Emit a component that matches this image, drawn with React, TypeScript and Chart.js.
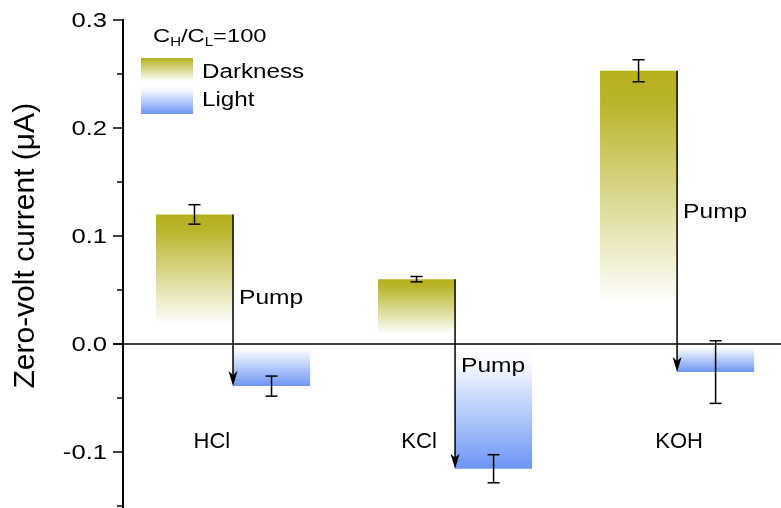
import React, { useEffect, useRef } from 'react';
import { Chart, registerables } from 'chart.js';

Chart.register(...registerables);

// Zero-volt current (μA) at C_H/C_L = 100, per electrolyte
const categories = ['HCl', 'KCl', 'KOH'];
const darknessValues = [0.12, 0.06, 0.253];
const darknessErrors = [0.009, 0.0025, 0.0102];
const lightValues = [-0.039, -0.1155, -0.026];
const lightErrors = [0.0093, 0.013, 0.029];

// y axis ticks
const majorTicks = [0.3, 0.2, 0.1, 0.0, -0.1];
const minorTicks = [0.25, 0.15, 0.05, -0.05, -0.15];

// annotation anchors (axis units)
const categoryLabelX = [-0.095, 0.838, 2.009];
const categoryLabelY = -0.091;
const pumpLabelY = [0.042, -0.021, 0.122];

const OLIVE = [180, 176, 28];
const BLUE = [108, 150, 245];
const rgba = (c: number[], a: number) => `rgba(${c[0]},${c[1]},${c[2]},${a})`;
const FONT = '"Liberation Sans", Arial, Helvetica, sans-serif';
const STRETCH = 1.22;

function darkFill(c: any) {
  const chart = c.chart;
  if (c.type !== 'data' || !chart.chartArea) return rgba(OLIVE, 1);
  const y = chart.scales.y;
  const top = y.getPixelForValue(c.parsed.y);
  const base = y.getPixelForValue(0);
  const g = chart.ctx.createLinearGradient(0, top, 0, base);
  g.addColorStop(0, rgba(OLIVE, 1));
  g.addColorStop(0.12, rgba(OLIVE, 0.93));
  g.addColorStop(0.85, rgba(OLIVE, 0));
  g.addColorStop(1, rgba(OLIVE, 0));
  return g;
}

function lightFill(c: any) {
  const chart = c.chart;
  if (c.type !== 'data' || !chart.chartArea) return rgba(BLUE, 1);
  const y = chart.scales.y;
  const bottom = y.getPixelForValue(c.parsed.y);
  const base = y.getPixelForValue(0);
  const g = chart.ctx.createLinearGradient(0, base, 0, bottom);
  g.addColorStop(0, rgba(BLUE, 0));
  g.addColorStop(0.15, rgba(BLUE, 0.04));
  g.addColorStop(1, rgba(BLUE, 1));
  return g;
}

function text(
  ctx: CanvasRenderingContext2D,
  s: string,
  x: number,
  y: number,
  size: number,
  align: CanvasTextAlign,
  sx = STRETCH
) {
  ctx.save();
  ctx.font = `${size}px ${FONT}`;
  ctx.textAlign = align;
  ctx.textBaseline = 'middle';
  ctx.fillStyle = '#000';
  ctx.translate(x, y);
  ctx.scale(sx, 1);
  ctx.fillText(s, 0, 0);
  ctx.restore();
}

function segment(ctx: CanvasRenderingContext2D, x1: number, y1: number, x2: number, y2: number) {
  ctx.beginPath();
  ctx.moveTo(x1, y1);
  ctx.lineTo(x2, y2);
  ctx.stroke();
}

const overlay = {
  id: 'overlay',
  afterDatasetsDraw(chart: any) {
    const { ctx, chartArea, scales } = chart;
    const ys = scales.y;
    const xs = scales.x;
    const axisX = chartArea.left + 1;
    const y0 = ys.getPixelForValue(0);
    const dark = chart.getDatasetMeta(0).data;
    const light = chart.getDatasetMeta(1).data;

    ctx.save();
    ctx.strokeStyle = '#000';
    ctx.fillStyle = '#000';

    // zero line
    ctx.lineWidth = 1.5;
    segment(ctx, axisX - 10, y0, chart.width, y0);

    // y axis with outward ticks
    ctx.lineWidth = 2;
    segment(ctx, axisX, chartArea.top - 1, axisX, chart.height);
    ctx.lineWidth = 1.5;
    majorTicks.forEach((v) => {
      const py = ys.getPixelForValue(v);
      segment(ctx, axisX - 10, py, axisX, py);
      text(ctx, v.toFixed(1), axisX - 16, py + 1, 21, 'right');
    });
    minorTicks.forEach((v) => {
      const py = ys.getPixelForValue(v);
      segment(ctx, axisX - 6, py, axisX, py);
    });

    // axis title
    ctx.save();
    ctx.translate(26, ys.getPixelForValue(0.091));
    ctx.rotate(-Math.PI / 2);
    ctx.font = `30px ${FONT}`;
    ctx.textAlign = 'center';
    ctx.textBaseline = 'middle';
    ctx.fillText('Zero-volt current (μA)', 0, 0);
    ctx.restore();

    // error bars
    const errorBar = (el: any, v: number, e: number) => {
      const top = ys.getPixelForValue(v + e);
      const bot = ys.getPixelForValue(v - e);
      ctx.lineWidth = 1.5;
      segment(ctx, el.x, top, el.x, bot);
      segment(ctx, el.x - 6, top, el.x + 6, top);
      segment(ctx, el.x - 6, bot, el.x + 6, bot);
    };
    categories.forEach((_, i) => {
      errorBar(dark[i], darknessValues[i], darknessErrors[i]);
      errorBar(light[i], lightValues[i], lightErrors[i]);
    });

    // pump arrows: from the darkness level down to the light level
    categories.forEach((_, i) => {
      const d = dark[i];
      const l = light[i];
      const ax = d.x + d.width / 2;
      const tip = l.y;
      ctx.lineWidth = 1.5;
      segment(ctx, ax, d.y, ax, tip - 8);
      ctx.beginPath();
      ctx.moveTo(ax, tip);
      ctx.lineTo(ax - 4.5, tip - 15);
      ctx.lineTo(ax, tip - 11);
      ctx.lineTo(ax + 4.5, tip - 15);
      ctx.closePath();
      ctx.fill();
      text(ctx, 'Pump', ax + 6, ys.getPixelForValue(pumpLabelY[i]), 21, 'left', 1.17);
    });

    // category labels
    categories.forEach((c, i) => {
      text(ctx, c, xs.getPixelForValue(categoryLabelX[i]), ys.getPixelForValue(categoryLabelY), 22, 'center', 1);
    });

    // legend
    const lx = chartArea.left + 19;
    const ly = chartArea.top;
    // title C_H/C_L=100
    ctx.save();
    ctx.translate(lx + 12, ly + 17);
    ctx.scale(1.25, 1);
    ctx.textBaseline = 'middle';
    ctx.textAlign = 'left';
    let cx = 0;
    const part = (s: string, size: number, dy: number) => {
      ctx.font = `${size}px ${FONT}`;
      ctx.fillText(s, cx, dy);
      cx += ctx.measureText(s).width;
    };
    part('C', 19, 0);
    part('H', 12, 6);
    part('/C', 19, 0);
    part('L', 12, 6);
    part('=100', 19, 0);
    ctx.restore();

    const sw = 52;
    const g1 = ctx.createLinearGradient(0, ly + 38, 0, ly + 61);
    g1.addColorStop(0, rgba(OLIVE, 1));
    g1.addColorStop(1, rgba(OLIVE, 0));
    ctx.fillStyle = g1;
    ctx.fillRect(lx, ly + 38, sw, 23);
    const g2 = ctx.createLinearGradient(0, ly + 64, 0, ly + 94);
    g2.addColorStop(0, rgba(BLUE, 0));
    g2.addColorStop(0.2, rgba(BLUE, 0.05));
    g2.addColorStop(1, rgba(BLUE, 1));
    ctx.fillStyle = g2;
    ctx.fillRect(lx, ly + 64, sw, 30);
    text(ctx, 'Darkness', lx + 61, ly + 53, 19.5, 'left', 1.24);
    text(ctx, 'Light', lx + 61, ly + 81, 19.5, 'left', 1.24);

    ctx.restore();
  },
};

export default function App() {
  const ref = useRef<HTMLCanvasElement>(null);

  useEffect(() => {
    const chart = new Chart(ref.current as HTMLCanvasElement, {
      type: 'bar',
      data: {
        datasets: [
          {
            label: 'Darkness',
            data: darknessValues.map((v, i) => ({ x: i, y: v })),
            backgroundColor: darkFill,
            borderWidth: 0,
            categoryPercentage: 0.694,
            barPercentage: 1,
          },
          {
            label: 'Light',
            data: lightValues.map((v, i) => ({ x: i, y: v })),
            backgroundColor: lightFill,
            borderWidth: 0,
            categoryPercentage: 0.694,
            barPercentage: 1,
          },
        ],
      } as any,
      options: {
        animation: false,
        responsive: false,
        layout: { padding: { top: 20, bottom: 2, left: 0, right: 0 } },
        plugins: { legend: { display: false }, tooltip: { enabled: false } },
        scales: {
          x: {
            type: 'linear',
            min: -0.5,
            max: 2.468,
            offset: false,
            grid: { offset: false },
            display: false,
            afterBuildTicks: (s: any) => {
              s.ticks = categories.map((_, i) => ({ value: i }));
            },
          },
          y: {
            min: -0.15,
            max: 0.3,
            ticks: { display: false },
            grid: { display: false },
            border: { display: false },
            afterFit: (s: any) => {
              s.width = 122;
            },
          },
        },
      } as any,
      plugins: [overlay],
    });
    return () => chart.destroy();
  }, []);

  return (
    <div style={{ position: 'fixed', left: 0, top: 0, width: 781, height: 508, background: '#fff' }}>
      <canvas ref={ref} width={781} height={508} style={{ display: 'block', width: 781, height: 508 }} />
    </div>
  );
}
